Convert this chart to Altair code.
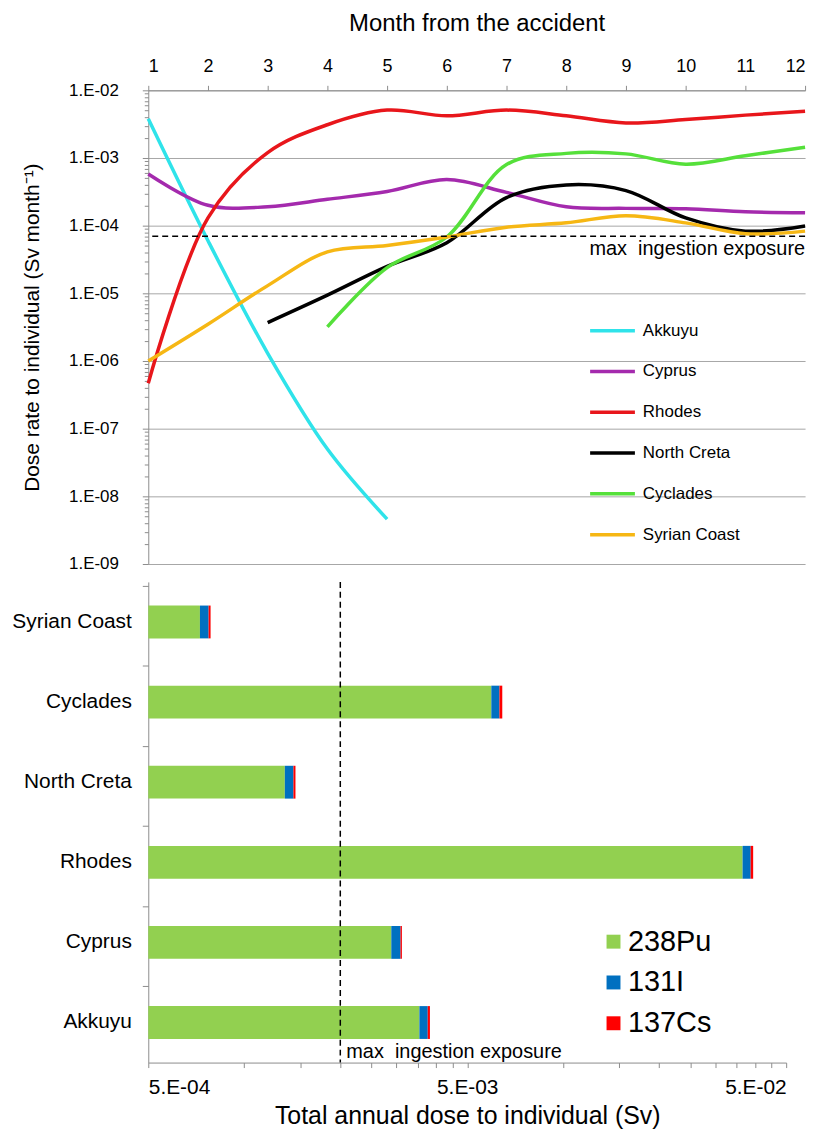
import altair as alt
import pandas as pd

# ---------------- top panel data (Sv / month) ----------------
months = list(range(1, 13))
sites_line = ["Akkuyu", "Cyprus", "Rhodes", "North Creta", "Cyclades", "Syrian Coast"]
line_colors = ["#2fe3ea", "#a42aad", "#e8161b", "#000000", "#55e03a", "#f6b714"]

akkuyu = [3.8e-3, 6.0e-5, 1.3e-6, 5.0e-8, 4.6e-9, None, None, None, None, None, None, None]
cyprus = [5.8e-4, 2.0e-4, 1.9e-4, 2.45e-4, 3.2e-4, 4.8e-4, 3.1e-4, 1.9e-4, 1.8e-4, 1.78e-4, 1.6e-4, 1.55e-4]
rhodes = [4.7e-7, 1.3e-4, 1.2e-3, 3.1e-3, 5.1e-3, 4.2e-3, 5.1e-3, 4.2e-3, 3.3e-3, 3.7e-3, 4.3e-3, 4.9e-3]
north_creta = [None, None, 3.7e-6, 9.4e-6, 2.5e-5, 5.6e-5, 2.6e-4, 4.0e-4, 3.3e-4, 1.3e-4, 8.3e-5, 9.9e-5]
cyclades = [None, None, None, 3.2e-6, 2.4e-5, 6.8e-5, 8.0e-4, 1.17e-3, 1.15e-3, 8.1e-4, 1.08e-3, 1.44e-3]
syrian = [1.0e-6, 3.5e-6, 1.3e-5, 4.1e-5, 5.1e-5, 6.8e-5, 9.5e-5, 1.1e-4, 1.4e-4, 1.1e-4, 7.6e-5, 8.3e-5]
series_values = [akkuyu, cyprus, rhodes, north_creta, cyclades, syrian]

max_monthly = 7.0e-5
ref_label = "max\u00a0 ingestion exposure"

y_major = [1e-9, 1e-8, 1e-7, 1e-6, 1e-5, 1e-4, 1e-3, 1e-2]
y_labels = ["1.E-09", "1.E-08", "1.E-07", "1.E-06", "1.E-05", "1.E-04", "1.E-03", "1.E-02"]

# ---------------- bottom panel data (Sv / year) ----------------
sites_bar = ["Syrian Coast", "Cyclades", "North Creta", "Rhodes", "Cyprus", "Akkuyu"]
nuclides = ["238Pu", "131I", "137Cs"]
nuclide_colors = ["#92d050", "#0070c0", "#ff0000"]
pu238 = [7.26e-4, 5.95e-3, 1.34e-3, 3.65e-2, 2.89e-3, 3.54e-3]
i131 = [4.7e-5, 3.6e-4, 8.6e-5, 2.2e-3, 2.0e-4, 2.2e-4]
cs137 = [1.1e-5, 1.3e-4, 2.1e-5, 7.0e-4, 3.0e-5, 6.0e-5]
max_annual = 2.0e-3

x_min, x_max = 5e-4, 5e-2
x_major = [5e-4, 5e-3, 5e-2]
x_labels = ["5.E-04", "5.E-03", "5.E-02"]

# ---------------- tables ----------------
rows = []
for s, vals in zip(sites_line, series_values):
    for m, v in zip(months, vals):
        if v is not None:
            rows.append({"month": m, "site": s, "dose": v})
df_lines = pd.DataFrame(rows)

bar_rows = []
for s, a, b, c in zip(sites_bar, pu238, i131, cs137):
    bar_rows.append({"site": s, "nuclide": nuclides[0], "start": x_min, "end": a})
    bar_rows.append({"site": s, "nuclide": nuclides[1], "start": a, "end": a + b})
    bar_rows.append({"site": s, "nuclide": nuclides[2], "start": a + b, "end": a + b + c})
df_bars = pd.DataFrame(bar_rows)
df_sites = pd.DataFrame({"site": sites_bar})

# tick values (major + minor) for log axes
y_ticks = []
for e in range(-9, -2):
    for k in range(1, 10):
        y_ticks.append(k * 10.0 ** e)
y_ticks.append(1e-2)

x_ticks = []
for base in [5e-4, 5e-3]:
    for k in range(1, 10):
        x_ticks.append(k * base)
x_ticks.append(5e-2)


def label_expr(vals, labels):
    expr = "''"
    for v, l in zip(vals, labels):
        expr = f"abs(datum.value/{v!r} - 1) < 1e-6 ? '{l}' : ({expr})"
    return expr


def major_test(vals):
    return " || ".join(f"abs(datum.value/{v!r} - 1) < 1e-6" for v in vals)


GRAY = "#8c8c8c"
FONT = "Liberation Sans"

# ---------------- top chart ----------------
W1, H1 = 660, 476
xs_top = alt.Scale(domain=[1, 12], nice=False, zero=False)
ys_top = alt.Scale(type="log", domain=[1e-9, 1e-2], nice=False)

lines = alt.Chart(df_lines).mark_line(strokeWidth=3.5, interpolate="catmull-rom").encode(
    x=alt.X("month:Q", scale=xs_top,
            axis=alt.Axis(orient="top", values=months, format="d", title="Month from the accident",
                          labelFontSize=18, titleFontSize=24, titleFontWeight="normal",
                          titlePadding=22, labelPadding=10, tickSize=5, grid=False,
                          domainColor=GRAY, tickColor=GRAY, labelColor="black",
                          titleColor="black", labelOverlap=False)),
    y=alt.Y("dose:Q", scale=ys_top,
            axis=alt.Axis(values=y_ticks, labelExpr=label_expr(y_major, y_labels),
                          title="Dose rate to individual (Sv month\u207b\u00b9)",
                          labelFontSize=17, titleFontSize=21, titleFontWeight="normal",
                          titlePadding=26, labelPadding=24, labelOverlap=False,
                          tickSize={"condition": {"test": major_test(y_major), "value": 6}, "value": 4},
                          gridOpacity={"condition": {"test": major_test(y_major), "value": 1}, "value": 0},
                          grid=True, gridColor="#a6a6a6", gridWidth=1,
                          domainColor=GRAY, tickColor=GRAY, labelColor="black",
                          titleColor="black")),
    color=alt.Color("site:N", scale=alt.Scale(domain=sites_line, range=line_colors),
                    legend=alt.Legend(title=None, orient="none", legendX=442, legendY=217,
                                      symbolType="stroke", symbolStrokeWidth=3.5, symbolSize=2025,
                                      labelFontSize=17, labelOffset=6, rowPadding=8,
                                      labelColor="black")),
)

ref_top = alt.Chart(pd.DataFrame({"v": [max_monthly]})).mark_rule(
    color="black", strokeWidth=1.5, strokeDash=[6, 4]).encode(y=alt.Y("v:Q", scale=ys_top))

ref_top_text = alt.Chart(pd.DataFrame({"v": [max_monthly], "m": [12], "t": [ref_label]})).mark_text(
    align="right", baseline="top", fontSize=20, dy=3, color="black").encode(
    x=alt.X("m:Q", scale=xs_top), y=alt.Y("v:Q", scale=ys_top), text="t:N")

top = alt.layer(lines, ref_top, ref_top_text).properties(width=W1, height=H1)

# ---------------- bottom chart ----------------
W2, H2 = 641, 483
xs_bot = alt.Scale(type="log", domain=[x_min, x_max], nice=False)

bars = alt.Chart(df_bars).mark_bar(size=33).encode(
    x=alt.X("start:Q", scale=xs_bot,
            axis=alt.Axis(values=x_ticks, labelExpr=label_expr(x_major, x_labels),
                          title="Total annual dose to individual (Sv)",
                          labelFontSize=21, titleFontSize=25, titleFontWeight="normal",
                          labelPadding=9, titlePadding=6, tickSize=5, grid=False,
                          labelOverlap=False, domainColor=GRAY, tickColor=GRAY,
                          labelColor="black", titleColor="black")),
    x2="end:Q",
    y=alt.Y("site:N", sort=sites_bar,
            axis=alt.Axis(title=None, labelFontSize=21, labelPadding=17, ticks=False,
                          domainColor=GRAY, labelColor="black", orient="left")),
    color=alt.Color("nuclide:N", scale=alt.Scale(domain=nuclides, range=nuclide_colors),
                    legend=alt.Legend(title=None, orient="none", legendX=453, legendY=347,
                                      symbolType="square", symbolSize=196, labelFontSize=29,
                                      labelOffset=0, rowPadding=11, labelColor="black",
                                      symbolStrokeWidth=0)),
    order=alt.Order("start:Q"),
)

# category-boundary ticks on the left axis (Excel style)
band_ticks = alt.Chart(df_sites).mark_bar(opacity=0).encode(
    y=alt.Y("site:N", sort=sites_bar,
            axis=alt.Axis(title=None, labels=False, domain=False, ticks=True, tickSize=6,
                          tickColor=GRAY, bandPosition=0, orient="left", grid=False)),
)

ref_bot = alt.Chart(pd.DataFrame({"v": [max_annual]})).mark_rule(
    color="black", strokeWidth=1.5, strokeDash=[6, 4]).encode(x=alt.X("v:Q", scale=xs_bot))

ref_bot_text = alt.Chart(pd.DataFrame({"v": [max_annual], "t": [ref_label]})).mark_text(
    align="left", baseline="middle", fontSize=20, dx=6, color="black").encode(
    x=alt.X("v:Q", scale=xs_bot), y=alt.value(472), text="t:N")

bottom = alt.layer(bars, band_ticks, ref_bot, ref_bot_text).resolve_axis(
    y="independent").properties(width=W2, height=H2)

chart = alt.vconcat(top, bottom, spacing=18, bounds="flush").resolve_scale(
    color="independent", x="independent", y="independent"
).properties(
    padding={"left": 11, "top": 9, "right": 8, "bottom": 0}
).configure(font=FONT).configure_view(stroke=None)

chart.save("out.html", embed_options={"renderer": "svg", "actions": False})
